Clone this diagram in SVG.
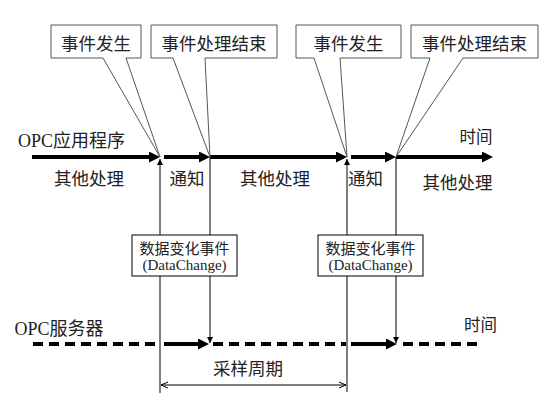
<svg xmlns="http://www.w3.org/2000/svg" width="560" height="405" viewBox="0 0 560 405">
<style>
text{font-family:"Liberation Serif","Noto Sans CJK SC",serif;fill:#222;text-anchor:middle}
.lbl{font-size:17.5px}
.box{font-size:17.5px}
.dbx{font-size:15px}
.call{fill:#fff;stroke:#555;stroke-width:1}
.dbox{fill:#fff;stroke:#000;stroke-width:1}
.thick{stroke:#000;stroke-width:4;fill:none}
.dash{stroke:#000;stroke-width:4;fill:none;stroke-dasharray:10 6}
.thin{stroke:#000;stroke-width:1;fill:none}
</style>
<defs>
<marker id="big" markerUnits="userSpaceOnUse" markerWidth="11" markerHeight="11" refX="2" refY="5.5" orient="auto">
<path d="M0,0 L11,5.5 L0,11 z" fill="#000"/>
</marker>
<marker id="small" markerUnits="userSpaceOnUse" markerWidth="6" markerHeight="6" refX="6" refY="3" orient="auto">
<path d="M0,0 L6,3 L0,6 z" fill="#000"/>
</marker>
<marker id="open" markerUnits="userSpaceOnUse" markerWidth="8" markerHeight="8" refX="7" refY="4" orient="auto-start-reverse">
<path d="M0,1 L7,4 L0,7" fill="none" stroke="#000" stroke-width="1"/>
</marker>
</defs>

<g id="connectors">
<!-- OPC app timeline -->
<line class="thick" x1="32" y1="157" x2="151" y2="157" marker-end="url(#big)"/>
<line class="thick" x1="164" y1="157" x2="201" y2="157" marker-end="url(#big)"/>
<line class="thick" x1="210" y1="157" x2="338" y2="157" marker-end="url(#big)"/>
<line class="thick" x1="351" y1="157" x2="387" y2="157" marker-end="url(#big)"/>
<line class="thick" x1="396" y1="157" x2="484" y2="157" marker-end="url(#big)"/>
<!-- OPC server timeline -->
<line class="dash" x1="33" y1="344" x2="157" y2="344"/>
<line class="thick" x1="164" y1="344" x2="200" y2="344" marker-end="url(#big)"/>
<line class="dash" x1="213" y1="344" x2="346" y2="344"/>
<line class="thick" x1="351" y1="344" x2="388" y2="344" marker-end="url(#big)"/>
<line class="dash" x1="403" y1="344" x2="481" y2="344"/>
<!-- vertical lines -->
<line class="thin" x1="160" y1="393" x2="160" y2="159" marker-end="url(#small)"/>
<line class="thin" x1="347" y1="392" x2="347" y2="159" marker-end="url(#small)"/>
<line class="thin" x1="210" y1="157" x2="210" y2="343" marker-end="url(#small)"/>
<line class="thin" x1="396" y1="157" x2="396" y2="343" marker-end="url(#small)"/>
<!-- sampling period -->
<line class="thin" x1="161" y1="385" x2="346" y2="385" marker-start="url(#open)" marker-end="url(#open)"/>
</g>

<g id="ev1">
<path class="call" d="M103,58 L51,58 L51,25 L141,25 L141,58 L126,58 L160,157 Z"/>
<text class="box" x="96" y="50">事件发生</text>
</g>
<g id="end1">
<path class="call" d="M173,58 L151,58 L151,25 L277,25 L277,58 L205,58 L210,157 Z"/>
<text class="box" x="214" y="50">事件处理结束</text>
</g>
<g id="ev2">
<path class="call" d="M314,58 L296,58 L296,25 L401,25 L401,58 L340,58 L347,157 Z"/>
<text class="box" x="348.5" y="50">事件发生</text>
</g>
<g id="end2">
<path class="call" d="M430,58 L411,58 L411,25 L538,25 L538,58 L463,58 L396,157 Z"/>
<text class="box" x="474.5" y="50">事件处理结束</text>
</g>

<g id="data1">
<rect class="dbox" x="132" y="235" width="105" height="41"/>
<text class="dbx" x="184.5" y="254">数据变化事件</text>
<text class="dbx" x="184.5" y="269.5">(DataChange)</text>
</g>
<g id="data2">
<rect class="dbox" x="318" y="235" width="105" height="41"/>
<text class="dbx" x="370.5" y="254">数据变化事件</text>
<text class="dbx" x="370.5" y="269.5">(DataChange)</text>
</g>

<g id="labels">
<text class="lbl" x="71.5" y="147" style="font-size:18px">OPC应用程序</text>
<text class="lbl" x="476" y="143" style="font-size:16.5px">时间</text>
<text class="lbl" x="89" y="185">其他处理</text>
<text class="lbl" x="187" y="185">通知</text>
<text class="lbl" x="275" y="185">其他处理</text>
<text class="lbl" x="365.5" y="185">通知</text>
<text class="lbl" x="457.5" y="189">其他处理</text>
<text class="lbl" x="59" y="335" style="font-size:18px">OPC服务器</text>
<text class="lbl" x="480.5" y="331" style="font-size:16.5px">时间</text>
<text class="lbl" x="248" y="375">采样周期</text>
</g>
</svg>
